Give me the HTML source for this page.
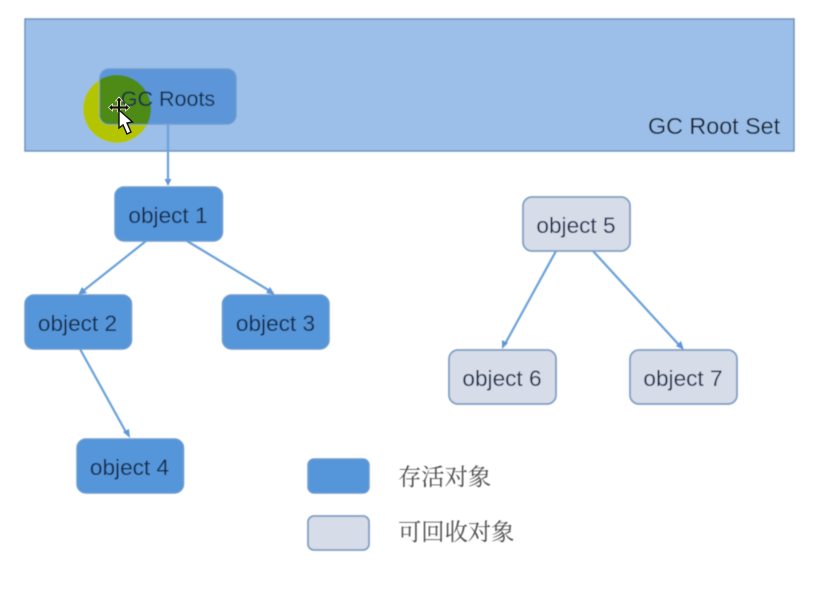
<!DOCTYPE html>
<html><head><meta charset="utf-8">
<style>
html,body{margin:0;padding:0;background:#fff;width:820px;height:595px;overflow:hidden}
svg{display:block}
text{font-family:"Liberation Sans","Noto Sans CJK SC",sans-serif;font-size:22.6px;fill:#15294a}
</style></head><body>
<svg width="820" height="595" viewBox="0 0 820 595" xmlns="http://www.w3.org/2000/svg">
<defs>
<filter id="b" x="-5%" y="-5%" width="110%" height="110%"><feGaussianBlur stdDeviation="0.45"/></filter>
<clipPath id="c"><rect x="100" y="69" width="136" height="55" rx="9"/></clipPath>
</defs>
<g filter="url(#b)">
<rect x="25" y="19" width="769" height="132" fill="#9bbfe9" stroke="#6f93bd" stroke-width="1.5"/>
<circle cx="117" cy="109" r="34" fill="#b3c400"/>
<rect x="100" y="69" width="136" height="55" rx="9" fill="#5b96d8" stroke="#6f9bd0" stroke-width="1.5"/>
<circle cx="117" cy="109" r="34" fill="#4d8a12" clip-path="url(#c)"/>
<g fill="none" stroke="#69a0dc" stroke-width="2.2">
<line x1="168" y1="124" x2="168" y2="181"/>
<line x1="146" y1="241" x2="83" y2="291"/>
<line x1="187" y1="241" x2="270" y2="291"/>
<line x1="80" y1="349" x2="127" y2="434"/>
<line x1="556" y1="251" x2="505" y2="344"/>
<line x1="593" y1="251" x2="680" y2="346"/>
</g>
<g fill="#5f98d8">
<polygon points="168,186 164.5,179 171.5,179"/>
<polygon points="78,295 82,287 87,293"/>
<polygon points="275,295 266,293 270,287"/>
<polygon points="130,438 123,432 129,429"/>
<polygon points="502,349 502,340 508,343"/>
<polygon points="684,350 676,346 681,341"/>
</g>
<g fill="#5595d9" stroke="#6d9ccf" stroke-width="1.5">
<rect x="115" y="187" width="107.500" height="54" rx="9"/>
<rect x="25" y="295" width="106.500" height="54" rx="9"/>
<rect x="222.500" y="295" width="106.500" height="54" rx="9"/>
<rect x="77" y="439" width="106.500" height="54" rx="9"/>
<rect x="308" y="459" width="61" height="34" rx="6"/>
</g>
<g fill="#d6dce8" stroke="#7f9fc6" stroke-width="1.8">
<rect x="523" y="197" width="107" height="54" rx="9"/>
<rect x="449" y="350" width="107" height="54" rx="9"/>
<rect x="630" y="350" width="107" height="54" rx="9"/>
<rect x="308" y="516" width="61" height="34" rx="6"/>
</g>
<g text-anchor="middle">
<text x="168" y="106" style="font-size:21.5px">GC Roots</text>
<text x="168" y="223">object 1</text>
<text x="77.500" y="331">object 2</text>
<text x="275.500" y="331">object 3</text>
<text x="129.500" y="475">object 4</text>
<text x="576" y="233">object 5</text>
<text x="502" y="386">object 6</text>
<text x="683" y="386">object 7</text>
</g>
<text x="648" y="134" style="font-size:23.300px;fill:#141d2b">GC Root Set</text>
<text x="398" y="485" style="font-size:23.300px;fill:#4a4a4a;font-family:'Liberation Serif','Noto Serif CJK SC',serif">存活对象</text>
<text x="398" y="540" style="font-size:23.300px;fill:#4a4a4a;font-family:'Liberation Serif','Noto Serif CJK SC',serif">可回收对象</text>
</g>
<!-- cursor -->
<g>
<g fill="#111" stroke="#f4f1c8" stroke-width="0.8">
<path d="M119 97 l3.500 4 h-2 v5 h5 v-2 l4 3.500 -4 3.500 v-2 h-5 v3 h-3 v-3 h-5 v2 l-4 -3.500 4 -3.500 v2 h5 v-5 h-2 z"/>
</g>
<path d="M119 110 L119 128 L123 125 L127 134 L131 132 L127 123 L132.500 122 Z" fill="#fff" stroke="#111" stroke-width="1.400"/>
</g>
</svg>
</body></html>
